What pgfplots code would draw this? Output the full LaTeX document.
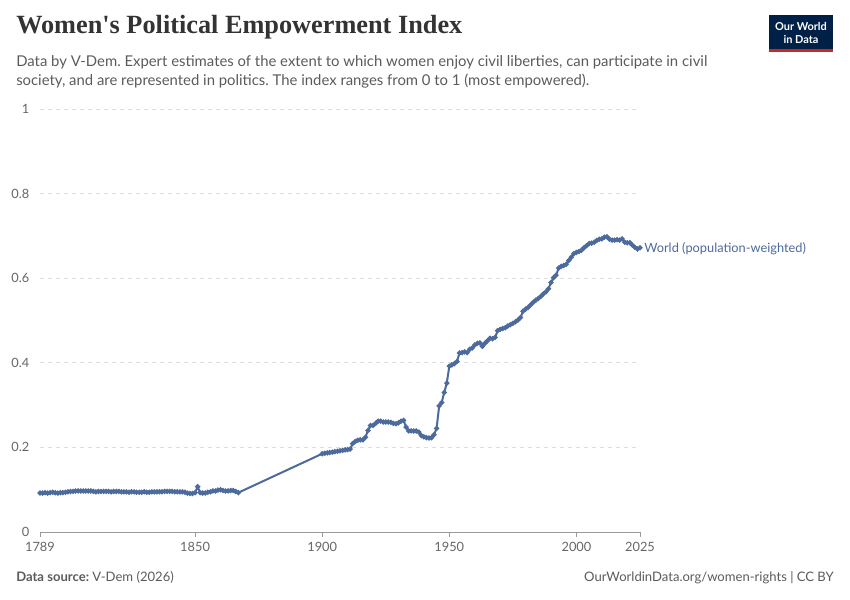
\documentclass[border=0pt]{standalone}
\usepackage{fontspec}
\setmainfont{Lato}
\newfontfamily\titlefont{Liberation Serif}
\usepackage{pgfplots}
\pgfplotsset{compat=1.18}
\definecolor{owidblue}{HTML}{4C6A9C}
\definecolor{txtgray}{HTML}{5B5B5B}
\definecolor{tickgray}{HTML}{666666}
\definecolor{gridgray}{HTML}{DDDDDD}
\definecolor{axisgray}{HTML}{999999}
\definecolor{owidnavy}{HTML}{002147}
\definecolor{owidred}{HTML}{CE261E}
\definecolor{titlecol}{HTML}{333333}
\pgfplotstableread{
year val
1789 0.092
1790 0.092
1791 0.093
1792 0.092
1793 0.093
1794 0.094
1795 0.093
1796 0.092
1797 0.093
1798 0.093
1799 0.094
1800 0.095
1801 0.096
1802 0.096
1803 0.097
1804 0.097
1805 0.097
1806 0.097
1807 0.097
1808 0.097
1809 0.097
1810 0.096
1811 0.095
1812 0.096
1813 0.096
1814 0.096
1815 0.096
1816 0.096
1817 0.095
1818 0.096
1819 0.096
1820 0.096
1821 0.095
1822 0.095
1823 0.095
1824 0.094
1825 0.095
1826 0.095
1827 0.094
1828 0.094
1829 0.094
1830 0.095
1831 0.094
1832 0.094
1833 0.095
1834 0.095
1835 0.095
1836 0.095
1837 0.095
1838 0.096
1839 0.096
1840 0.096
1841 0.096
1842 0.095
1843 0.095
1844 0.095
1845 0.095
1846 0.094
1847 0.092
1848 0.091
1849 0.091
1850 0.093
1851 0.107
1852 0.093
1853 0.092
1854 0.092
1855 0.094
1856 0.095
1857 0.097
1858 0.097
1859 0.099
1860 0.100
1861 0.098
1862 0.097
1863 0.097
1864 0.098
1865 0.098
1866 0.096
1867 0.093
1900 0.185
1901 0.186
1902 0.187
1903 0.188
1904 0.189
1905 0.190
1906 0.191
1907 0.192
1908 0.193
1909 0.194
1910 0.195
1911 0.196
1912 0.209
1913 0.214
1914 0.217
1915 0.218
1916 0.218
1917 0.224
1918 0.240
1919 0.252
1920 0.252
1921 0.257
1922 0.262
1923 0.262
1924 0.260
1925 0.260
1926 0.260
1927 0.259
1928 0.257
1929 0.256
1930 0.258
1931 0.262
1932 0.264
1933 0.248
1934 0.239
1935 0.239
1936 0.239
1937 0.239
1938 0.236
1939 0.228
1940 0.225
1941 0.223
1942 0.222
1943 0.223
1944 0.230
1945 0.245
1946 0.298
1947 0.306
1948 0.330
1949 0.352
1950 0.392
1951 0.395
1952 0.398
1953 0.403
1954 0.423
1955 0.424
1956 0.426
1957 0.424
1958 0.432
1959 0.435
1960 0.442
1961 0.446
1962 0.447
1963 0.439
1964 0.446
1965 0.452
1966 0.458
1967 0.457
1968 0.460
1969 0.476
1970 0.479
1971 0.481
1972 0.483
1973 0.487
1974 0.490
1975 0.493
1976 0.497
1977 0.501
1978 0.507
1979 0.522
1980 0.527
1981 0.531
1982 0.537
1983 0.543
1984 0.548
1985 0.552
1986 0.557
1987 0.563
1988 0.568
1989 0.575
1990 0.590
1991 0.601
1992 0.607
1993 0.624
1994 0.628
1995 0.630
1996 0.633
1997 0.642
1998 0.650
1999 0.658
2000 0.661
2001 0.663
2002 0.666
2003 0.672
2004 0.677
2005 0.682
2006 0.683
2007 0.685
2008 0.689
2009 0.692
2010 0.693
2011 0.697
2012 0.698
2013 0.692
2014 0.690
2015 0.690
2016 0.691
2017 0.690
2018 0.693
2019 0.685
2020 0.684
2021 0.684
2022 0.678
2023 0.673
2024 0.669
2025 0.672
}\worlddata
\begin{document}
\frenchspacing
\begin{tikzpicture}[x=0.75pt,y=-0.75pt]
\path[use as bounding box] (0,0) rectangle (850,600);
% title
\node[anchor=west, inner sep=0pt, text=titlecol] at (16,27) {\resizebox{334.5pt}{!}{\titlefont\bfseries Women's Political Empowerment Index}};
% subtitle
\node[anchor=base west, inner sep=0pt, text=txtgray, font=\fontsize{11.15pt}{14pt}\selectfont] at (16,66) {Data by V-Dem. Expert estimates of the extent to which women enjoy civil liberties, can participate in civil};
\node[anchor=base west, inner sep=0pt, text=txtgray, font=\fontsize{11.15pt}{14pt}\selectfont] at (16,85) {society, and are represented in politics. The index ranges from 0 to 1 (most empowered).};
% logo
\fill[owidnavy] (769,15) rectangle (833,50);
\fill[owidred] (769,49) rectangle (833,52);
\node[text=white, inner sep=0pt, font=\fontsize{8.2pt}{9pt}\selectfont\bfseries] at (801,26.5) {Our World};
\node[text=white, inner sep=0pt, font=\fontsize{8.2pt}{9pt}\selectfont\bfseries] at (801,39.5) {in Data};
\begin{axis}[
  at={(30pt,-399pt)}, anchor=south west,
  scale only axis, width=450pt, height=317.25pt,
  xmin=1789, xmax=2025, ymin=0, ymax=1,
  axis x line*=bottom, axis y line*=left,
  y axis line style={draw=none},
  x axis line style={draw=axisgray, line width=0.6pt},
  xtick={1789,1850,1900,1950,2000,2025},
  xticklabels={1789,1850,1900,1950,2000,2025},
  ytick={0,0.2,0.4,0.6,0.8,1},
  yticklabels={0,0.2,0.4,0.6,0.8,1},
  tick align=outside,
  xtick style={draw=axisgray, line width=0.6pt},
  ytick style={draw=none},
  major tick length=3.5pt,
  ymajorgrids,
  grid style={draw=gridgray, line width=0.6pt, dash pattern=on 3pt off 3pt},
  ticklabel style={text=tickgray, font=\fontsize{9.6pt}{11pt}\selectfont},
  xticklabel style={yshift=-1pt},
  yticklabel style={xshift=-1pt},
  clip=false,
]
\addplot[owidblue, line width=1.5pt, mark=*, mark size=1.1pt, mark options={solid}] table[x=year, y=val] {\worlddata};
\end{axis}
\node[anchor=west, inner sep=0pt, text=owidblue, font=\fontsize{9.6pt}{11pt}\selectfont] at (644,249) {World (population-weighted)};
% footer
\node[anchor=base west, inner sep=0pt, text=txtgray, font=\fontsize{9.8pt}{11pt}\selectfont] at (16,581) {\textbf{Data source:} V-Dem (2026)};
\node[anchor=base east, inner sep=0pt, text=txtgray, font=\fontsize{9.8pt}{11pt}\selectfont] at (834,581) {OurWorldinData.org/women-rights | CC BY};
\end{tikzpicture}
\end{document}
